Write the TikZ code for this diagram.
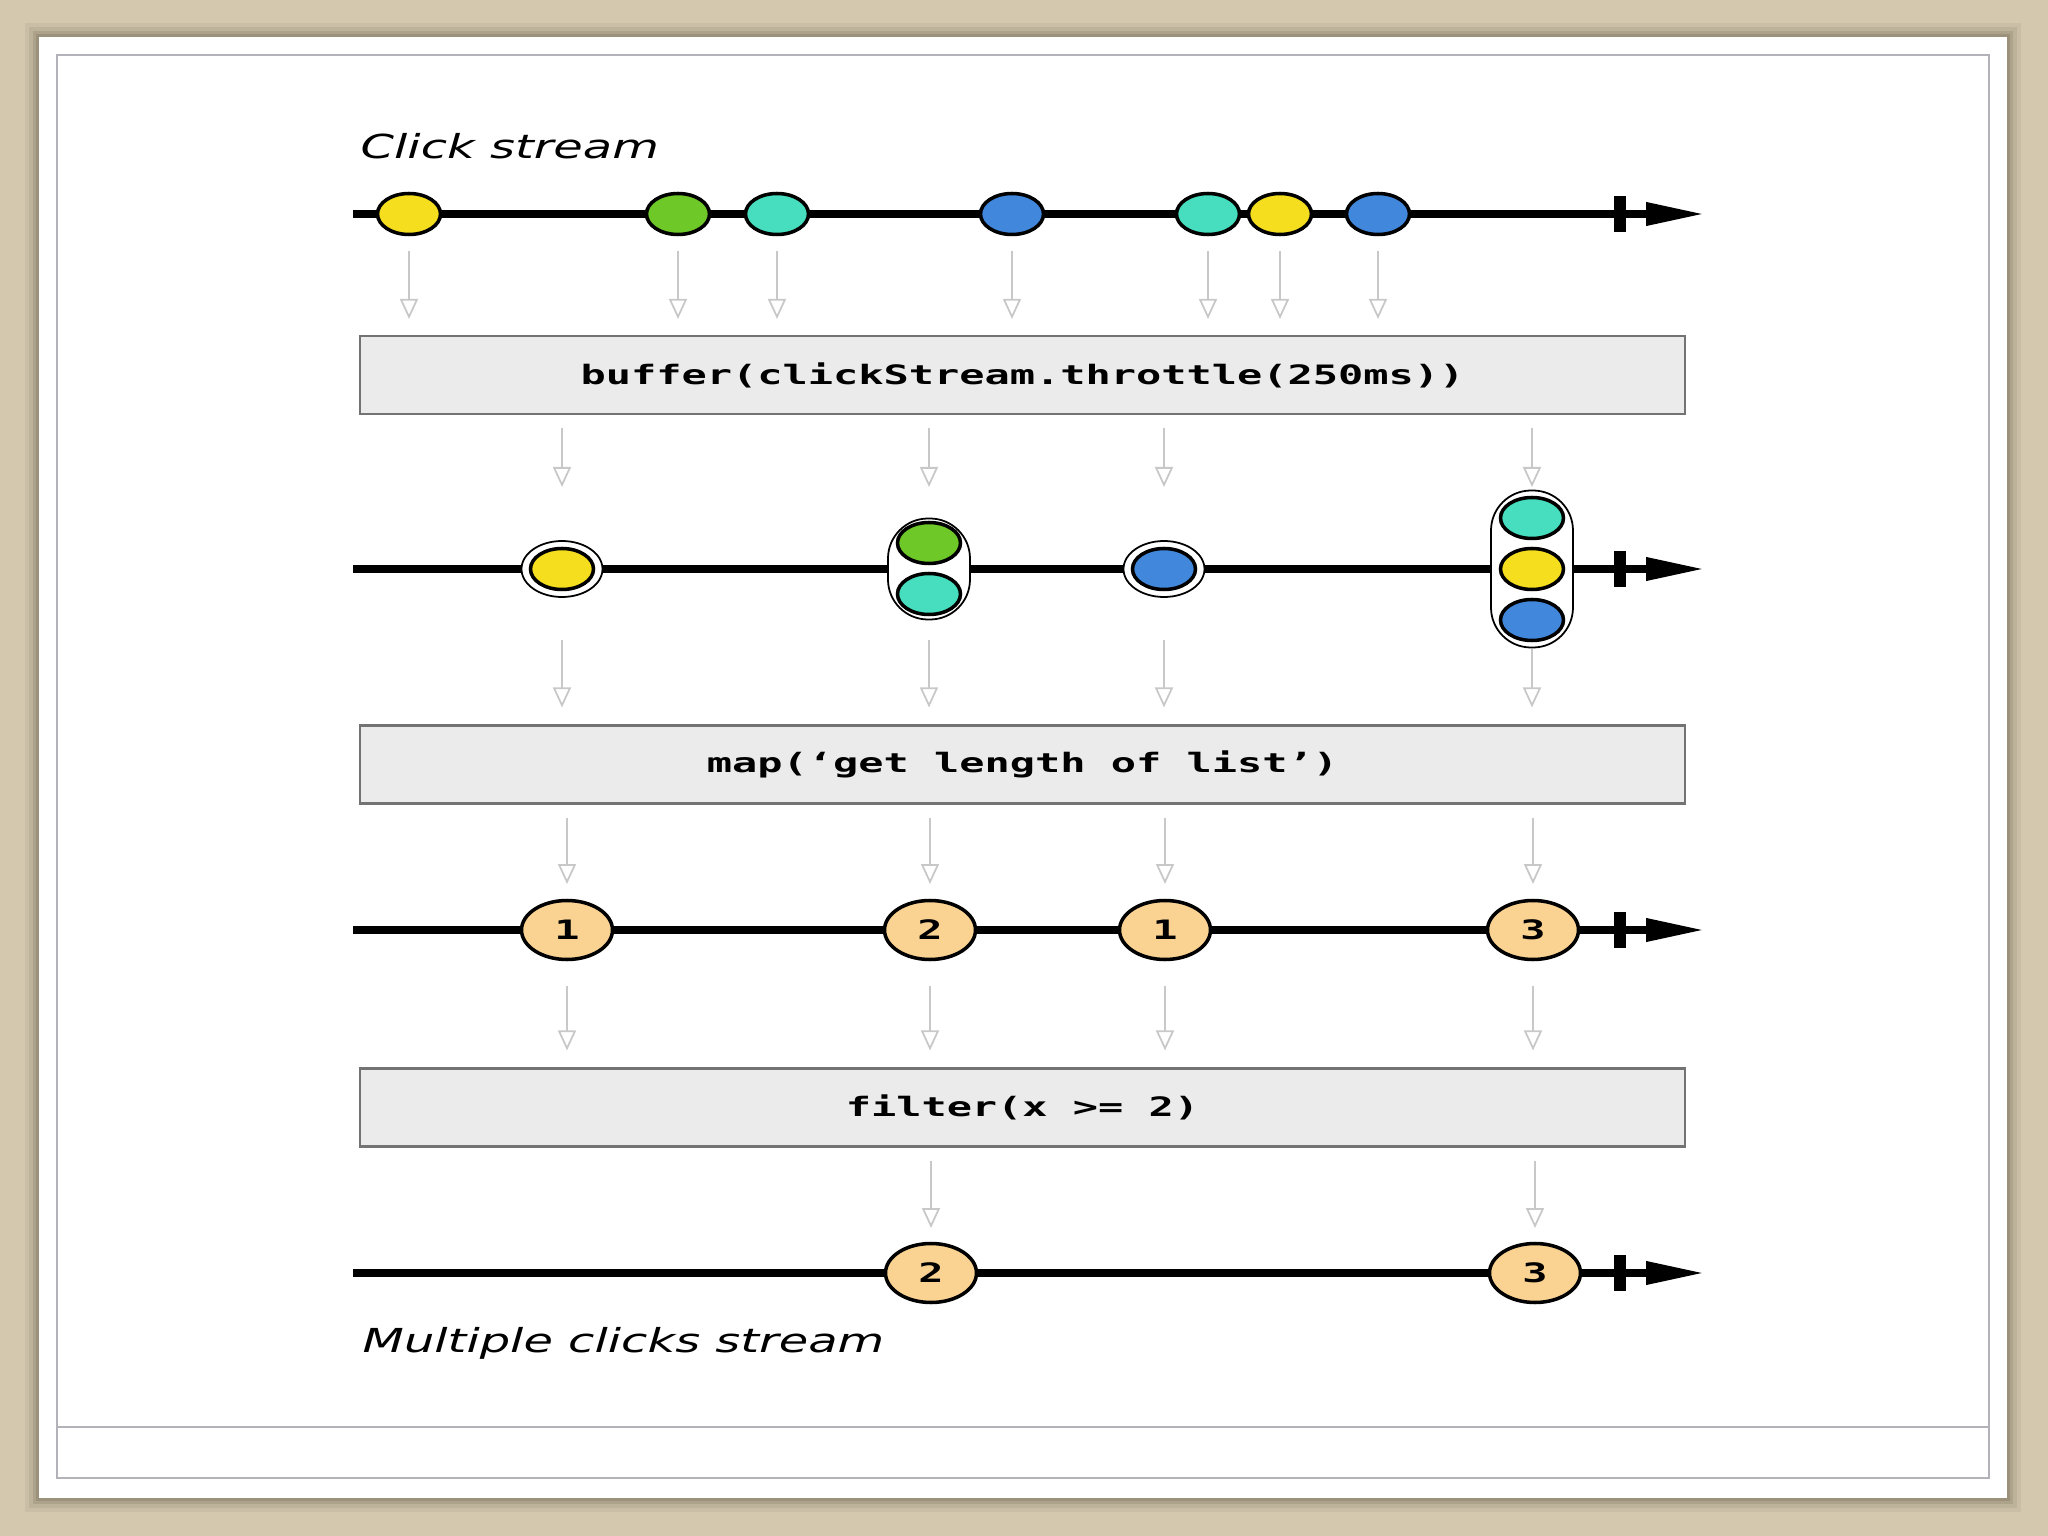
\documentclass[tikz,border=0pt]{standalone}
\usepackage{fontspec}
\usetikzlibrary{arrows.meta, shapes.geometric, positioning, calc}
\newfontfamily\codefont[FakeStretch=1.57]{DejaVu Sans Mono}
\newfontfamily\labelfont[FakeStretch=1.45]{DejaVu Sans}
\definecolor{paper}{RGB}{212, 200, 175}
\definecolor{shadowbrown}{RGB}{120, 110, 90}
\definecolor{framegray}{RGB}{178, 178, 184}
\definecolor{boxfill}{RGB}{235, 235, 235}
\definecolor{boxline}{RGB}{115, 115, 115}
\definecolor{flowgray}{RGB}{200, 200, 200}
\definecolor{clickyellow}{RGB}{245, 222, 30}
\definecolor{clickgreen}{RGB}{110, 200, 40}
\definecolor{clickteal}{RGB}{70, 222, 190}
\definecolor{clickblue}{RGB}{65, 135, 220}
\definecolor{countorange}{RGB}{250, 210, 145}

\begin{document}
\begin{tikzpicture}[
  marble/.style={ellipse, draw=black, line width=1pt, minimum width=0.63cm, minimum height=0.41cm, inner sep=0pt},
  ring/.style={ellipse, draw=black, line width=0.5pt, fill=white, minimum width=0.81cm, minimum height=0.56cm, inner sep=0pt},
  capsule/.style={rectangle, rounded corners=0.4cm, draw=black, line width=0.5pt, fill=white, minimum width=0.82cm, inner sep=0pt},
  countball/.style={ellipse, draw=black, line width=1pt, fill=countorange, minimum width=0.91cm, minimum height=0.59cm, inner sep=0pt, font=\codefont\bfseries\fontsize{7.6}{8}\selectfont},
  opbox/.style={rectangle, draw=boxline, line width=0.6pt, fill=boxfill, minimum width=13.25cm, minimum height=0.78cm, font=\codefont\bfseries\fontsize{7.6}{9}\selectfont},
  streamlabel/.style={anchor=west, inner sep=0pt, font=\labelfont\itshape\fontsize{9.4}{11}\selectfont},
  timeline/.style={line width=2pt, -{Triangle[length=0.58cm, width=0.22cm]}},
  tickmark/.style={line width=0.12cm},
  flow/.style={draw=flowgray, line width=0.5pt, -{Triangle[open, length=2mm, width=1.8mm]}}
]
  \useasboundingbox (0,0) rectangle (20.48,-15.36);
  \fill[paper] (0,0) rectangle (20.48,-15.36);

  % card with soft shadow
  \coordinate (cardNW) at (0.39,-0.37);
  \coordinate (cardSE) at (20.07,-14.98);
  \foreach \d/\o in {0.14/0.10, 0.10/0.15, 0.06/0.22, 0.03/0.3}
    \fill[shadowbrown, opacity=\o] ([shift={(-\d,\d)}]cardNW) rectangle ([shift={(\d,-\d)}]cardSE);
  \fill[white] (cardNW) rectangle (cardSE);
  \draw[framegray, line width=0.6pt] (0.57,-0.55) rectangle (19.89,-14.78);
  \draw[framegray, line width=0.6pt] (0.57,-14.27) -- (19.89,-14.27);

  % time lines
  \foreach \y [count=\i] in {-2.14,-5.69,-9.30,-12.73} {
    \coordinate (start\i) at (3.53,\y);
    \coordinate (end\i) at (17.04,\y);
    \draw[timeline] (start\i) -- (end\i);
    \draw[tickmark] ([xshift=-8.4mm]end\i) ++(0,0.18) -- ++(0,-0.36);
  }

  \node[streamlabel] (clicklabel) at (3.60,-1.46) {Click stream};
  \node[streamlabel] (multilabel) at (3.62,-13.43) {Multiple clicks stream};

  % clicks
  \node[marble, fill=clickyellow] (a1) at (4.09,-2.14) {};
  \node[marble, fill=clickgreen] (a2) at (6.78,-2.14) {};
  \node[marble, fill=clickteal] (a3) at (7.77,-2.14) {};
  \node[marble, fill=clickblue] (a4) at (10.12,-2.14) {};
  \node[marble, fill=clickteal] (a5) at (12.08,-2.14) {};
  \node[marble, fill=clickyellow] (a6) at (12.80,-2.14) {};
  \node[marble, fill=clickblue] (a7) at (13.78,-2.14) {};

  \node[opbox] (buf) at (10.225,-3.75) {buffer(clickStream.throttle(250ms))};

  % buffered lists
  \node[ring] (b1) at (5.62,-5.69) {};
  \node[marble, fill=clickyellow] (b1a) at (b1) {};
  \node[capsule, minimum height=1.01cm] (b2) at (9.29,-5.69) {};
  \node[marble, fill=clickgreen] (b2a) at (9.29,-5.43) {};
  \node[marble, fill=clickteal] (b2b) at (9.29,-5.94) {};
  \node[ring] (b3) at (11.64,-5.69) {};
  \node[marble, fill=clickblue] (b3a) at (b3) {};
  \node[capsule, minimum height=1.57cm] (b4) at (15.32,-5.69) {};
  \node[marble, fill=clickteal] (b4a) at (15.32,-5.18) {};
  \node[marble, fill=clickyellow] (b4b) at (15.32,-5.69) {};
  \node[marble, fill=clickblue] (b4c) at (15.32,-6.20) {};

  \node[opbox] (map) at (10.225,-7.645) {map(‘get length of list’)};

  % lengths
  \node[countball] (c1) at (5.67,-9.30) {1};
  \node[countball] (c2) at (9.30,-9.30) {2};
  \node[countball] (c3) at (11.65,-9.30) {1};
  \node[countball] (c4) at (15.33,-9.30) {3};

  \node[opbox] (filter) at (10.225,-11.075) {filter(x >= 2)};

  \node[countball] (d1) at (9.31,-12.73) {2};
  \node[countball] (d2) at (15.35,-12.73) {3};

  % flow arrows
  \foreach \m in {a1,a2,a3,a4,a5,a6,a7}
    \draw[flow, shorten <=3.7mm, shorten >=1.6mm] (\m.center) -- (\m |- buf.north);
  \foreach \m in {b1,b2,b3,b4}
    \draw[flow, shorten <=1.3mm, shorten >=8.2mm] (buf.south -| \m) -- (\m.center);
  \foreach \m/\s in {b1/7.1,b2/7.1,b3/7.1,b4/8.0}
    \draw[flow, shorten <=\s mm, shorten >=1.7mm] (\m.center) -- (\m |- map.north);
  \foreach \m in {c1,c2,c3,c4}
    \draw[flow, shorten <=1.3mm, shorten >=4.6mm] (map.south -| \m) -- (\m.center);
  \foreach \m in {c1,c2,c3,c4}
    \draw[flow, shorten <=5.6mm, shorten >=1.7mm] (\m.center) -- (\m |- filter.north);
  \foreach \m in {d1,d2}
    \draw[flow, shorten <=1.3mm, shorten >=4.5mm] (filter.south -| \m) -- (\m.center);
\end{tikzpicture}
\end{document}
